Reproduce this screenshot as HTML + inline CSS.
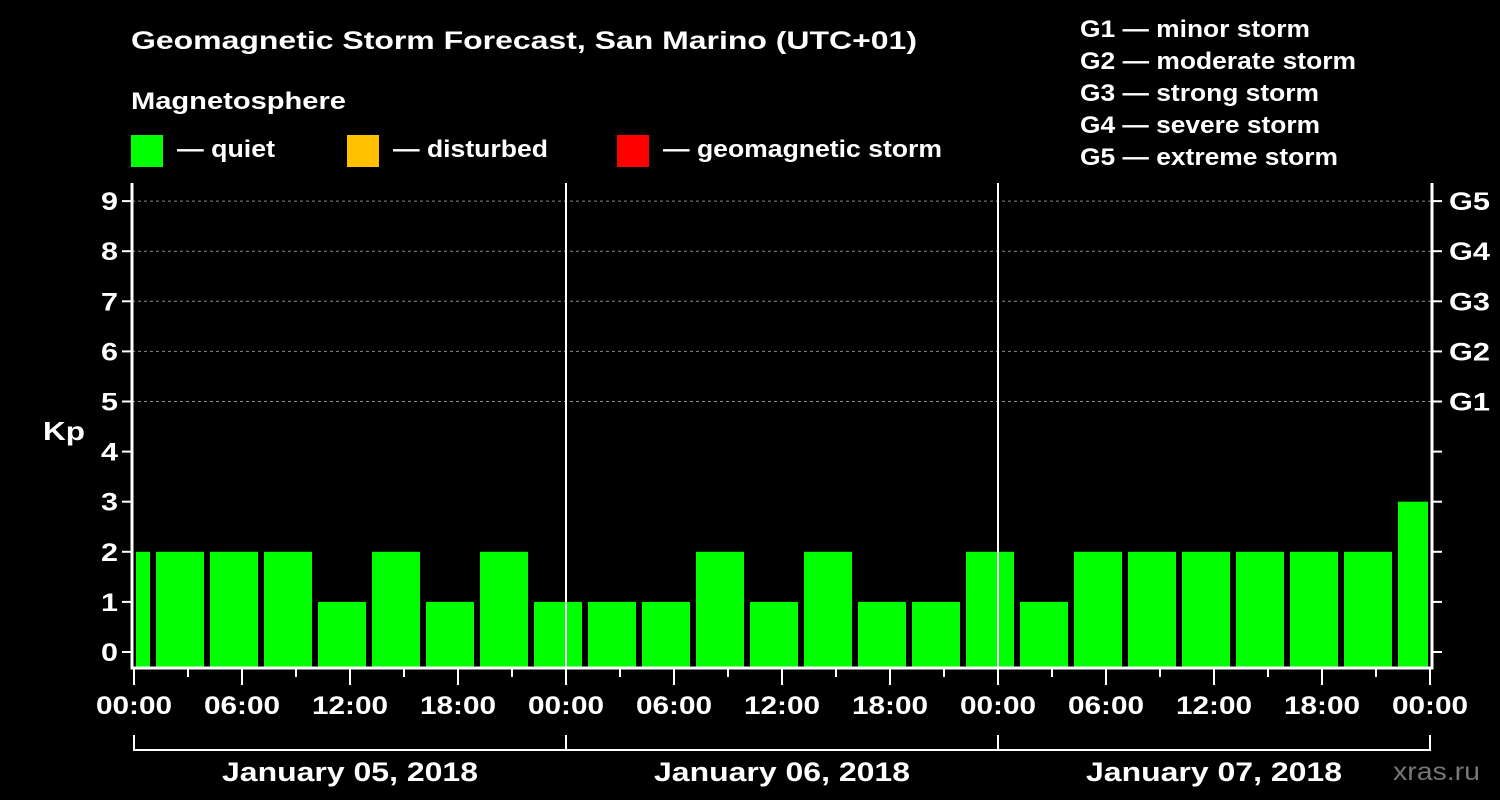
<!DOCTYPE html>
<html><head><meta charset="utf-8"><style>
body{margin:0;background:#000;width:1500px;height:800px;overflow:hidden}
svg{display:block;font-family:"Liberation Sans",sans-serif;font-weight:bold}
</style></head><body>
<svg id="c" width="1500" height="800">
<text x="131" y="49" fill="#fff" font-size="25" textLength="786" lengthAdjust="spacingAndGlyphs">Geomagnetic Storm Forecast, San Marino (UTC+01)</text>
<text x="131" y="109" fill="#fff" font-size="24" textLength="215" lengthAdjust="spacingAndGlyphs">Magnetosphere</text>
<rect x="131" y="135" width="32" height="32" fill="#00ff00"/>
<text x="177" y="157" fill="#fff" font-size="24" textLength="98" lengthAdjust="spacingAndGlyphs">— quiet</text>
<rect x="347" y="135" width="32" height="32" fill="#ffc000"/>
<text x="393" y="157" fill="#fff" font-size="24" textLength="155" lengthAdjust="spacingAndGlyphs">— disturbed</text>
<rect x="617" y="135" width="32" height="32" fill="#ff0000"/>
<text x="663" y="157" fill="#fff" font-size="24" textLength="279" lengthAdjust="spacingAndGlyphs">— geomagnetic storm</text>
<g fill="#fff" font-size="24">
<text x="1080" y="37" textLength="230" lengthAdjust="spacingAndGlyphs">G1 — minor storm</text>
<text x="1080" y="69" textLength="276" lengthAdjust="spacingAndGlyphs">G2 — moderate storm</text>
<text x="1080" y="101" textLength="239" lengthAdjust="spacingAndGlyphs">G3 — strong storm</text>
<text x="1080" y="133" textLength="240" lengthAdjust="spacingAndGlyphs">G4 — severe storm</text>
<text x="1080" y="165" textLength="258" lengthAdjust="spacingAndGlyphs">G5 — extreme storm</text>
</g>
<text x="43" y="440" fill="#fff" font-size="26" textLength="42" lengthAdjust="spacingAndGlyphs">Kp</text>
<text x="1393" y="780" fill="#777" font-size="25" font-weight="normal" textLength="87" lengthAdjust="spacingAndGlyphs">xras.ru</text>
<g id="g"></g>
</svg>
<script>
const kpValues=[2,2,2,2,1,2,1,2,1,1,1,2,1,2,1,1,2,1,2,2,2,2,2,2,3];
const yTicks=[0,1,2,3,4,5,6,7,8,9];
const gLabels=["G1","G2","G3","G4","G5"];
const hourLabels=["00:00","06:00","12:00","18:00"];
const dayLabels=["January 05, 2018","January 06, 2018","January 07, 2018"];
const NS="http://www.w3.org/2000/svg",g=document.getElementById('g');
const X0=134,PX_H=18,Y0=652,PX_K=50.1,L=132,R=1432,B=668,T=183;
const xs=h=>X0+h*PX_H, ys=k=>Y0-k*PX_K;
function mk(t,a,txt){const e=document.createElementNS(NS,t);for(const k in a)e.setAttribute(k,a[k]);if(txt!=null)e.textContent=txt;g.appendChild(e);return e;}
for(let k=5;k<=9;k++){const e=mk('line',{x1:L,x2:R,y1:ys(k),y2:ys(k),stroke:'#888','stroke-dasharray':'3,3','stroke-width':1});

}
kpValues.forEach((v,i)=>{let x1=xs(-2+3*i)+4,x2=xs(1+3*i)-2;x1=Math.max(x1,L+4);x2=Math.min(x2,R-4);
const e=mk('rect',{x:x1,y:ys(v),width:x2-x1,height:B-ys(v),fill:'#00ff00'});

});
for(let d=1;d<3;d++){const e=mk('line',{x1:xs(24*d),x2:xs(24*d),y1:T,y2:B,stroke:'#fff','stroke-width':2});

}
let ax=mk('path',{d:`M${L},${T}V${B}H${R}V${T}`,stroke:'#fff','stroke-width':3,fill:'none'});


yTicks.forEach(k=>{const y=ys(k);
mk('line',{x1:L-10,x2:L,y1:y,y2:y,stroke:'#fff','stroke-width':2});
mk('line',{x1:R,x2:R+10,y1:y,y2:y,stroke:'#fff','stroke-width':2});
const t=mk('text',{x:L-14,y:y+9,fill:'#fff','font-size':25,'text-anchor':'end',textLength:17,lengthAdjust:'spacingAndGlyphs'},k);

});
gLabels.forEach((s,i)=>{const t=mk('text',{x:1449,y:ys(5+i)+9,fill:'#fff','font-size':25,textLength:41,lengthAdjust:'spacingAndGlyphs'},s);

});
for(let h=0;h<=72;h+=3){const x=xs(h),maj=h%6==0;
mk('line',{x1:x,x2:x,y1:B,y2:B+(maj?17:9),stroke:'#fff','stroke-width':2});
if(maj){const t=mk('text',{x:x-38,y:B+46,fill:'#fff','font-size':25,textLength:76,lengthAdjust:'spacingAndGlyphs'},hourLabels[(h/6)%4]);

}}
mk('path',{d:`M${xs(0)},735V750H${xs(72)}V735M${xs(24)},735V750M${xs(48)},735V750`,stroke:'#fff','stroke-width':2,fill:'none'});
dayLabels.forEach((s,i)=>{const t=mk('text',{x:xs(24*i+12)-128,y:781,fill:'#fff','font-size':27,textLength:256,lengthAdjust:'spacingAndGlyphs'},s);

});
</script>
</body></html>
